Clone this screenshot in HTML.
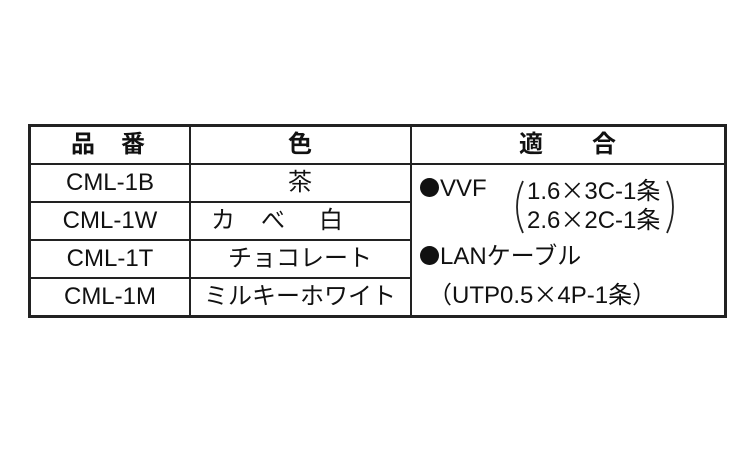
<!DOCTYPE html>
<html><head><meta charset="utf-8"><style>
*{box-sizing:border-box}
body{margin:0;width:750px;height:450px;background:#fff;position:relative;overflow:hidden;font-family:"Liberation Sans","Noto Sans CJK JP",sans-serif;color:#111}
.t{position:absolute;font-size:24px;line-height:38px;height:38px;white-space:nowrap}
.h{font-weight:bold}
.c{text-align:center}
.l{position:absolute;background:#222}
.x{font-family:"Noto Sans CJK JP",sans-serif}
.b{display:inline-block;width:19px;height:19px;border-radius:50%;background:#111;vertical-align:-1px;margin-right:1px}
</style></head><body>
<div style="position:absolute;left:28px;top:124px;width:699px;height:194px;border:3px solid #222"></div>
<div class="l" style="left:28px;top:163px;width:698px;height:2px"></div>
<div class="l" style="left:28px;top:201px;width:383px;height:1.5px"></div>
<div class="l" style="left:28px;top:239px;width:383px;height:1.5px"></div>
<div class="l" style="left:28px;top:277px;width:383px;height:1.5px"></div>
<div class="l" style="left:189px;top:125px;width:1.5px;height:191px"></div>
<div class="l" style="left:410px;top:125px;width:1.5px;height:191px"></div>

<div class="t h" style="left:71px;top:126px">品</div>
<div class="t h" style="left:121px;top:126px">番</div>
<div class="t c h" style="left:190px;width:220px;top:126px">色</div>
<div class="t h" style="left:519px;top:126px">適</div>
<div class="t h" style="left:592px;top:126px">合</div>

<div class="t c" style="left:30px;width:160px;top:164px">CML-1B</div>
<div class="t c" style="left:30px;width:160px;top:202px">CML-1W</div>
<div class="t c" style="left:30px;width:160px;top:240px">CML-1T</div>
<div class="t c" style="left:30px;width:160px;top:278px">CML-1M</div>

<div class="t c" style="left:190px;width:220px;top:164px">茶</div>
<div class="t" style="left:211px;top:202px">カ</div>
<div class="t" style="left:261px;top:202px">べ</div>
<div class="t" style="left:319px;top:202px">白</div>
<div class="t c" style="left:190px;width:220px;top:240px">チョコレート</div>
<div class="t c" style="left:190px;width:220px;top:278px">ミルキーホワイト</div>

<div class="t" style="left:420px;top:170px"><span class="b"></span>VVF</div>
<svg style="position:absolute;left:505px;top:178px" width="180" height="60">
<path d="M18 3 Q6 29 18 55" fill="none" stroke="#222" stroke-width="1.8"/>
<path d="M162 3 Q174 29 162 55" fill="none" stroke="#222" stroke-width="1.8"/>
</svg>
<div class="t" style="left:527px;top:170px">1.6<span class="x">×</span>3C-1条</div>
<div class="t" style="left:527px;top:199px">2.6<span class="x">×</span>2C-1条</div>
<div class="t" style="left:420px;top:238px"><span class="b"></span>LANケーブル</div>
<div class="t" style="left:428px;top:274px">（UTP0.5<span class="x">×</span>4P-1条）</div>
</body></html>
